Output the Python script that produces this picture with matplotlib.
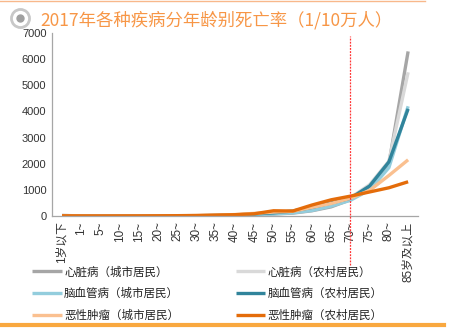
import matplotlib

matplotlib.use("Agg")
import matplotlib.pyplot as plt
from matplotlib.lines import Line2D

plt.rcParams["font.family"] = ["Noto Sans CJK SC", "DejaVu Sans"]

AGE_GROUPS = ["1岁以下", "1~", "5~", "10~", "15~", "20~", "25~", "30~", "35~",
              "40~", "45~", "50~", "55~", "60~", "65~", "70~", "75~", "80~",
              "85岁及以上"]

# deaths per 100k, by age group
HEART_URBAN = [20, 2, 1, 1, 2, 3, 5, 8, 15, 25, 45, 75, 110, 200, 350, 620, 1100, 2000, 6300]
HEART_RURAL = [22, 3, 2, 2, 3, 4, 7, 11, 20, 35, 60, 100, 150, 280, 430, 700, 1200, 2100, 5500]
CEREBRO_URBAN = [3, 1, 1, 1, 1, 2, 3, 6, 12, 25, 50, 80, 120, 210, 380, 600, 1000, 1850, 4200]
CEREBRO_RURAL = [5, 1, 1, 1, 1, 3, 5, 10, 20, 40, 80, 120, 190, 330, 500, 680, 1150, 2070, 4100]
CANCER_URBAN = [6, 3, 3, 3, 4, 6, 9, 15, 30, 55, 100, 150, 180, 330, 480, 680, 980, 1550, 2150]
CANCER_RURAL = [7, 4, 3, 4, 5, 8, 12, 20, 35, 50, 85, 200, 190, 420, 620, 760, 920, 1080, 1310]

SERIES = [
    ("心脏病（城市居民）", HEART_URBAN, "#a6a6a6"),
    ("心脏病（农村居民）", HEART_RURAL, "#d9d9d9"),
    ("脑血管病（城市居民）", CEREBRO_URBAN, "#93cddd"),
    ("脑血管病（农村居民）", CEREBRO_RURAL, "#31849b"),
    ("恶性肿瘤（城市居民）", CANCER_URBAN, "#fac090"),
    ("恶性肿瘤（农村居民）", CANCER_RURAL, "#e46c0a"),
]


def main():
    fig = plt.figure(figsize=(4.62, 3.28), dpi=100)
    ax = fig.add_axes([0.1126, 0.3415, 0.7924, 0.5575])

    x = list(range(len(AGE_GROUPS)))
    lines = []
    for label, values, color in SERIES:
        (ln,) = ax.plot(x, values, color=color, lw=2.4, label=label,
                        solid_capstyle="butt")
        lines.append(ln)

    ax.set_xlim(-0.52, len(AGE_GROUPS) - 0.48)
    ax.set_ylim(0, 7000)
    ax.set_yticks(range(0, 7001, 1000))
    ax.set_yticklabels([str(v) for v in range(0, 7001, 1000)],
                       family="Liberation Sans", fontsize=8)
    ax.set_xticks(x)
    ax.set_xticklabels(AGE_GROUPS, rotation=90, fontsize=8.5, color="#333333",
                       family=["Liberation Sans", "Noto Sans CJK SC"])
    ax.tick_params(length=0, pad=4, colors="#333333")

    for side in ("top", "right"):
        ax.spines[side].set_visible(False)
    for side in ("left", "bottom"):
        ax.spines[side].set_color("#a6a6a6")
        ax.spines[side].set_linewidth(0.9)

    # marker for the 70~ group
    ax.axvline(15, ymin=-0.27, ymax=0.985, color="#ff3333", lw=0.9,
               ls=(0, (1.5, 1)), clip_on=False, zorder=5)

    # legend fills column by column: urban on the left, rural on the right
    order = [0, 2, 4, 1, 3, 5]
    handles = [lines[i] for i in order]
    leg = fig.legend(handles, [h.get_label() for h in handles],
                     loc="upper left", bbox_to_anchor=(0.06, 0.205), ncol=2,
                     frameon=False, fontsize=8.3, handlelength=2.6,
                     handletextpad=0.15, columnspacing=4.9, labelspacing=0.75,
                     borderaxespad=0)
    for t in leg.get_texts():
        t.set_color("#222222")

    fig.text(0.087, 0.938, "2017年各种疾病分年龄别死亡率（1/10万人）",
             color="#f79646", fontsize=12.5, va="center", ha="left")

    # round bullet before the title
    fig.add_artist(Line2D([0.044], [0.945], marker="o", markersize=13,
                          markerfacecolor="white", markeredgecolor="#c8c8c8",
                          markeredgewidth=2, transform=fig.transFigure))
    fig.add_artist(Line2D([0.044], [0.945], marker="o", markersize=5,
                          markerfacecolor="#a0a0a0", markeredgecolor="#a0a0a0",
                          transform=fig.transFigure))

    # top and bottom rules
    fig.add_artist(Line2D([0, 0.92], [0.998, 0.998], color="#f8b88b", lw=1,
                          transform=fig.transFigure))
    fig.add_artist(Line2D([0, 0.96], [0.01, 0.01], color="#f9a83f", lw=3,
                          transform=fig.transFigure))

    fig.savefig("out.png", dpi=100)
    plt.close(fig)


if __name__ == "__main__":
    main()
